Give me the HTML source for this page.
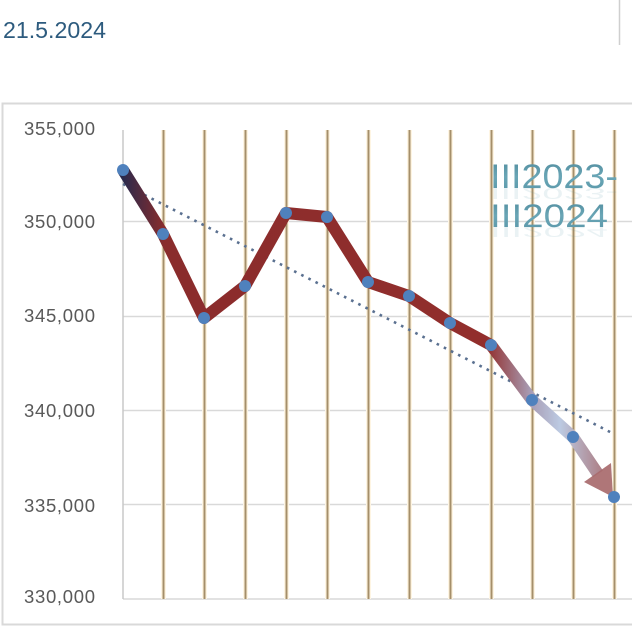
<!DOCTYPE html>
<html>
<head>
<meta charset="utf-8">
<style>
html,body{margin:0;padding:0;background:#fff;}
body{width:632px;height:631px;overflow:hidden;}
svg{display:block;}
</style>
</head>
<body>
<svg width="632" height="631" viewBox="0 0 632 631" xmlns="http://www.w3.org/2000/svg">
  <defs>
    <linearGradient id="lg" gradientUnits="userSpaceOnUse" x1="123" y1="0" x2="614" y2="0">
      <stop offset="0" stop-color="#2b2a4c"/>
      <stop offset="0.085" stop-color="#8a2c2c"/>
      <stop offset="0.74" stop-color="#922e2c"/>
      <stop offset="0.83" stop-color="#a89cb4"/>
      <stop offset="0.89" stop-color="#bccae2"/>
      <stop offset="1" stop-color="#a86a6c"/>
    </linearGradient>
    <linearGradient id="tg" x1="0" y1="0" x2="0" y2="1">
      <stop offset="0" stop-color="#4f8a9c"/>
      <stop offset="0.5" stop-color="#6aa6b6"/>
      <stop offset="1" stop-color="#5794a6"/>
    </linearGradient>
  </defs>

  <!-- header -->
  <text x="3" y="38" font-family="Liberation Sans, sans-serif" font-size="23.5" fill="#2d5b7e" textLength="103" lengthAdjust="spacingAndGlyphs">21.5.2024</text>
  <line x1="619.5" y1="0" x2="619.5" y2="45" stroke="#cfcfcf" stroke-width="1.5"/>

  <!-- chart frame -->
  <rect x="2.5" y="103.5" width="640" height="521" fill="#fff" stroke="#d9d9d9" stroke-width="2"/>

  <!-- horizontal gridlines -->
  <g stroke="#d9d9d9" stroke-width="1.5">
    <line x1="123" y1="221.5" x2="632" y2="221.5"/>
    <line x1="123" y1="316.5" x2="632" y2="316.5"/>
    <line x1="123" y1="410.5" x2="632" y2="410.5"/>
    <line x1="123" y1="504.5" x2="632" y2="504.5"/>
    <line x1="123" y1="599" x2="632" y2="599"/>
  </g>

  <!-- vertical lines: glow -->
  <g stroke="#fef5e3" stroke-width="5">
    <line x1="163.5" y1="130" x2="163.5" y2="599"/>
    <line x1="204.5" y1="130" x2="204.5" y2="599"/>
    <line x1="245.5" y1="130" x2="245.5" y2="599"/>
    <line x1="286.5" y1="130" x2="286.5" y2="599"/>
    <line x1="327.5" y1="130" x2="327.5" y2="599"/>
    <line x1="368.5" y1="130" x2="368.5" y2="599"/>
    <line x1="409.5" y1="130" x2="409.5" y2="599"/>
    <line x1="450.5" y1="130" x2="450.5" y2="599"/>
    <line x1="491.5" y1="130" x2="491.5" y2="599"/>
    <line x1="532.5" y1="130" x2="532.5" y2="599"/>
    <line x1="573.5" y1="130" x2="573.5" y2="599"/>
    <line x1="614.5" y1="130" x2="614.5" y2="599"/>
  </g>
  <g stroke="#a58f6a" stroke-width="2">
    <line x1="163.5" y1="130" x2="163.5" y2="599"/>
    <line x1="204.5" y1="130" x2="204.5" y2="599"/>
    <line x1="245.5" y1="130" x2="245.5" y2="599"/>
    <line x1="286.5" y1="130" x2="286.5" y2="599"/>
    <line x1="327.5" y1="130" x2="327.5" y2="599"/>
    <line x1="368.5" y1="130" x2="368.5" y2="599"/>
    <line x1="409.5" y1="130" x2="409.5" y2="599"/>
    <line x1="450.5" y1="130" x2="450.5" y2="599"/>
    <line x1="491.5" y1="130" x2="491.5" y2="599"/>
    <line x1="532.5" y1="130" x2="532.5" y2="599"/>
    <line x1="573.5" y1="130" x2="573.5" y2="599"/>
    <line x1="614.5" y1="130" x2="614.5" y2="599"/>
  </g>
  <!-- y axis line -->
  <line x1="123" y1="130" x2="123" y2="599" stroke="#c8c8c8" stroke-width="1.5"/>

  <!-- y labels -->
  <g font-family="Liberation Sans, sans-serif" font-size="18.5" fill="#595959">
    <text x="24" y="135" textLength="71" lengthAdjust="spacing">355,000</text>
    <text x="24" y="228" textLength="71" lengthAdjust="spacing">350,000</text>
    <text x="24" y="322" textLength="71" lengthAdjust="spacing">345,000</text>
    <text x="24" y="417" textLength="71" lengthAdjust="spacing">340,000</text>
    <text x="24" y="512" textLength="71" lengthAdjust="spacing">335,000</text>
    <text x="24" y="603" textLength="71" lengthAdjust="spacing">330,000</text>
  </g>

  <!-- title text with reflection -->
  <g font-family="Liberation Sans, sans-serif">
    <g opacity="0.12" transform="translate(0,188) scale(1,-0.45) translate(0,-188)">
      <text x="490" y="188" font-size="34" fill="#5a98a8" textLength="128" lengthAdjust="spacingAndGlyphs">III2023-</text>
    </g>
    <g opacity="0.12" transform="translate(0,227) scale(1,-0.45) translate(0,-227)">
      <text x="490" y="227" font-size="32" fill="#5a98a8" textLength="118" lengthAdjust="spacingAndGlyphs">III2024</text>
    </g>
    <text x="490" y="188" font-size="34" fill="url(#tg)" textLength="128" lengthAdjust="spacingAndGlyphs">III2023-</text>
    <text x="490" y="227" font-size="32" fill="url(#tg)" textLength="118" lengthAdjust="spacingAndGlyphs">III2024</text>
  </g>

  <!-- trend line -->
  <line x1="123" y1="184" x2="612" y2="433" stroke="#5a7090" stroke-width="2.6" stroke-dasharray="2.6 5.4"/>

  <!-- main line -->
  <polyline points="123,170 163,234 204,318 245,286 286,213 327,217 368,282 409,296 450,323 491,345 532,400 573,437 598,474"
    fill="none" stroke="url(#lg)" stroke-width="12" stroke-linejoin="round" stroke-linecap="butt"/>
  <polygon points="613,497 584,482 611,463" fill="#a86a6c" opacity="0.92"/>

  <!-- markers -->
  <g fill="#4f81bd">
    <circle cx="123" cy="170" r="6"/>
    <circle cx="163" cy="234" r="6"/>
    <circle cx="204" cy="318" r="6"/>
    <circle cx="245" cy="286" r="6"/>
    <circle cx="286" cy="213" r="6"/>
    <circle cx="327" cy="217" r="6"/>
    <circle cx="368" cy="282" r="6"/>
    <circle cx="409" cy="296" r="6"/>
    <circle cx="450" cy="323" r="6"/>
    <circle cx="491" cy="345" r="6"/>
    <circle cx="532" cy="400" r="6"/>
    <circle cx="573" cy="437" r="6"/>
    <circle cx="614" cy="497" r="6"/>
  </g>
</svg>
</body>
</html>
